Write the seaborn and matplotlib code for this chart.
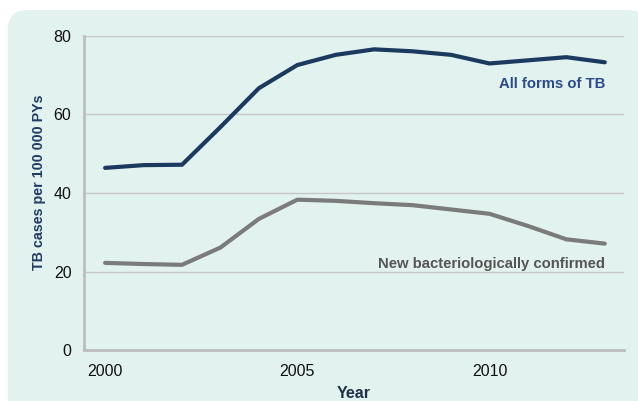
import matplotlib
matplotlib.use('Agg')
import matplotlib.pyplot as plt
import seaborn as sns
import pandas as pd
from matplotlib.patches import FancyBboxPatch

years = list(range(2000, 2014))
all_forms = [46.4, 47.1, 47.2, 56.8, 66.7, 72.6, 75.2, 76.6, 76.1, 75.2, 73.0, 73.8, 74.6, 73.3]
new_bact = [22.2, 21.9, 21.7, 26.1, 33.4, 38.3, 38.0, 37.4, 36.9, 35.8, 34.7, 31.6, 28.2, 27.1]
series_names = ['All forms of TB', 'New bacteriologically confirmed']

df = pd.DataFrame({
    'Year': years * 2,
    'rate': all_forms + new_bact,
    'series': [series_names[0]] * len(years) + [series_names[1]] * len(years),
})

sns.set_style('white')
plt.rcParams['font.family'] = ['Liberation Sans', 'DejaVu Sans']

fig = plt.figure(figsize=(6.38, 4.01), dpi=100)
bg = FancyBboxPatch((8 / 638, -0.05), 1.0, 1.05 - 10 / 401,
                    boxstyle='round,pad=0,rounding_size=0.03',
                    transform=fig.transFigure, facecolor='#e2f2ee',
                    edgecolor='none', zorder=-5, mutation_aspect=638 / 401)
fig.patches.append(bg)

ax = fig.add_axes([84 / 638, 51 / 401, 540 / 638, 314 / 401])
ax.set_zorder(2)
ax.set_facecolor('none')

sns.lineplot(data=df, x='Year', y='rate', hue='series',
             palette=['#1b3a60', '#7b7b7b'], linewidth=3, ax=ax,
             legend=False, zorder=3)

ax.set_xlim(1999.45, 2013.5)
ax.set_ylim(0, 80)
ax.set_yticks([0, 20, 40, 60, 80])
ax.set_xticks([2000, 2005, 2010])
ax.set_xticks([y - 0.5 for y in years] + [2013.5], minor=True)
ax.tick_params(axis='x', which='major', length=0, labelsize=11.5, pad=10, colors='#111111')
ax.tick_params(axis='x', which='minor', length=5, width=1.5, color='#bdbdbd', direction='out')
ax.tick_params(axis='y', length=5, width=1.5, color='#bdbdbd', labelsize=11.5, labelcolor='#111111', pad=4)
ax.grid(axis='y', color='#c6c6c6', linewidth=1)
ax.set_axisbelow(True)
for s in ['top', 'right']:
    ax.spines[s].set_visible(False)
for s in ['left', 'bottom']:
    ax.spines[s].set_color('#bdbdbd')
    ax.spines[s].set_linewidth(2)

ax.set_ylabel('TB cases per 100 000 PYs', fontsize=10.3, fontweight='bold', color='#1f3b66')
ax.yaxis.set_label_coords(-0.07, 0.535)
ax.set_xlabel('Year', fontsize=11.5, fontweight='bold', color='#1f3048')
ax.xaxis.set_label_coords(0.50, -0.115)

ax.text(years[-1], 67.8, series_names[0], ha='right', va='center', fontsize=10.7,
        fontweight='bold', color='#2b4a8c')
ax.text(years[-1], 22, series_names[1], ha='right', va='center', fontsize=10.7,
        fontweight='bold', color='#555555')

fig.savefig('out.png', dpi=100)
